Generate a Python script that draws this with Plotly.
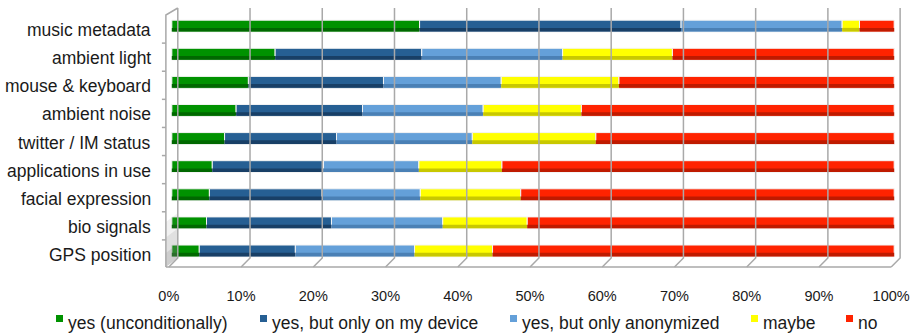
import numpy as np
import plotly.graph_objects as go

# Survey: willingness to share each kind of context data (% of respondents)
categories = [
    "music metadata", "ambient light", "mouse & keyboard", "ambient noise",
    "twitter / IM status", "applications in use", "facial expression",
    "bio signals", "GPS position",
]
yes_unconditionally = [34.3, 14.3, 10.6, 8.9, 7.3, 5.6, 5.2, 4.8, 3.8]
yes_my_device = [36.2, 20.3, 18.7, 17.5, 15.5, 15.4, 15.6, 17.3, 13.3]
yes_anonymized = [22.3, 19.5, 16.3, 16.7, 18.8, 13.2, 13.6, 15.4, 16.5]
maybe = [2.4, 15.2, 16.3, 13.6, 17.1, 11.5, 13.9, 11.7, 10.8]
no = [4.8, 30.7, 38.1, 43.3, 41.3, 54.3, 51.7, 50.8, 55.6]

series_names = [
    "yes (unconditionally)", "yes, but only on my device",
    "yes, but only anonymized", "maybe", "no",
]
series_values = [yes_unconditionally, yes_my_device, yes_anonymized, maybe, no]
fill_colors = ["#009200", "#265f93", "#64a0d9", "#ffff00", "#ff2300"]
shade_colors = ["#006800", "#183f66", "#4a80b5", "#c8c800", "#bf1a00"]
x_ticks = [0, 10, 20, 30, 40, 50, 60, 70, 80, 90, 100]
x_tick_labels = [f"{t}%" for t in x_ticks]

FONT = "Liberation Sans, Arial, sans-serif"
GRID = "#a9a9a9"
n = len(categories)
ypos = np.arange(n)[::-1]  # first category on top

# Axis ranges leave room for the pseudo-3D wall and floor
X_RANGE = [-1.5, 101.5]
Y_RANGE = [-0.607, n - 0.322]

# depth offsets of the pseudo-3D frame, in axis units
BACK_DX, FRONT_DX = 0.825, -0.41
BACK_BOTTOM, FLOOR_Y, TOP_Y = -0.25, -0.571, n - 0.358
WALL_X, WALL_TOP = -0.825, n - 0.607

fig = go.Figure()

# back wall gridlines, each running into a floor diagonal
gx, gy = [], []
for t in x_ticks:
    gx += [t + BACK_DX, t + BACK_DX, t + FRONT_DX, None]
    gy += [TOP_Y, BACK_BOTTOM, FLOOR_Y, None]
# floor front edge
gx += [WALL_X, x_ticks[-1] + FRONT_DX, None]
gy += [FLOOR_Y, FLOOR_Y, None]
# left wall front edge with bevel to the back wall
gx += [WALL_X, WALL_X, BACK_DX, None]
gy += [FLOOR_Y, WALL_TOP, TOP_Y, None]
# small ticks on the left wall between categories
for b in np.arange(n - 1) + 0.5:
    gx += [WALL_X - 0.55, WALL_X, None]
    gy += [b - 0.107, b - 0.107, None]

# soft grey shading of the left wall near the floor
for top, op in [(1.6, 0.10), (1.05, 0.14), (0.5, 0.18)]:
    fig.add_trace(go.Scatter(
        x=[WALL_X, WALL_X, BACK_DX, BACK_DX, WALL_X],
        y=[FLOOR_Y, FLOOR_Y + top, BACK_BOTTOM + top, BACK_BOTTOM, FLOOR_Y],
        mode="lines", fill="toself", fillcolor=f"rgba(120,120,120,{op})",
        line=dict(width=0), showlegend=False, hoverinfo="skip",
    ))
fig.add_trace(go.Scatter(
    x=gx, y=gy, mode="lines", line=dict(color=GRID, width=1.5),
    showlegend=False, hoverinfo="skip",
))

# Stacked segments (explicit base so a shading strip can be overlaid)
starts = np.zeros(n)
bases = []
for vals in series_values:
    bases.append(starts.copy())
    starts = starts + np.array(vals)

BAR_W = 0.42
for name, vals, base, col in zip(series_names, series_values, bases, fill_colors):
    fig.add_trace(go.Bar(
        y=ypos, x=vals, base=base, orientation="h", name=name,
        width=BAR_W, offset=-BAR_W / 2,
        marker=dict(color=col, line=dict(color="#f4f4f4", width=1)),
        showlegend=False,
    ))
# darker lower band gives the cylinder look
for vals, base, col in zip(series_values, bases, shade_colors):
    fig.add_trace(go.Bar(
        y=ypos, x=vals, base=base, orientation="h",
        width=0.13, offset=-BAR_W / 2 + 0.015,
        marker=dict(color=col, line=dict(width=0)),
        showlegend=False, hoverinfo="skip",
    ))

# category labels
annotations = []
for cat, yp in zip(categories, ypos):
    annotations.append(dict(
        text=cat, xref="paper", x=0, xanchor="right", xshift=-8,
        yref="y", y=yp, yanchor="middle", yshift=-4, showarrow=False,
        font=dict(family=FONT, size=17.5, color="#1a1a1a"),
    ))

# legend row
shapes = []
legend_key_px = [56, 260, 510, 751, 846]
for name, col, kx in zip(series_names, fill_colors, legend_key_px):
    shapes.append(dict(type="rect", xref="paper", xsizemode="pixel", xanchor=0,
                       yref="paper", ysizemode="pixel", yanchor=0,
                       x0=kx - 161, x1=kx - 161 + 7, y0=-47, y1=-54,
                       fillcolor=col, line=dict(width=0)))
    annotations.append(dict(
        text=name, xref="paper", x=0, xanchor="left", xshift=kx - 161 + 10,
        yref="paper", y=0, yanchor="middle", yshift=-55, showarrow=False,
        font=dict(family=FONT, size=17.5, color="#1a1a1a"),
    ))

fig.update_layout(
    width=917, height=334,
    margin=dict(l=161, r=7, t=7, b=66),
    paper_bgcolor="white", plot_bgcolor="white",
    barmode="overlay",
    shapes=shapes, annotations=annotations,
    xaxis=dict(range=X_RANGE, tickvals=x_ticks, ticktext=x_tick_labels,
               showgrid=False, zeroline=False, showline=False, ticks="",
               ticklabelstandoff=17, ticklabelshift=-3,
               tickfont=dict(family=FONT, size=14.5, color="#1a1a1a")),
    yaxis=dict(range=Y_RANGE, showticklabels=False, showgrid=False,
               zeroline=False, showline=False, ticks=""),
    font=dict(family=FONT),
)

fig.write_html("out.html")
